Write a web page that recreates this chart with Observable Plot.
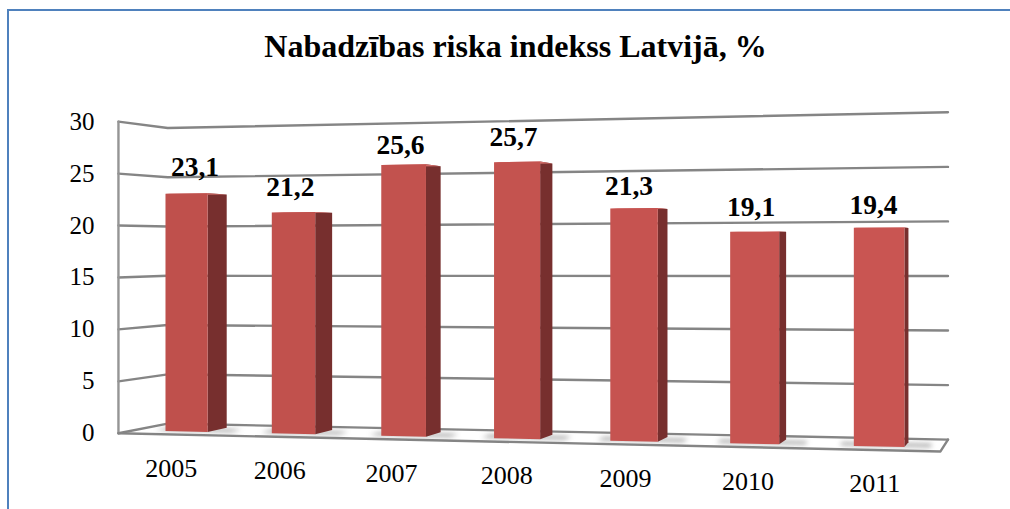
<!DOCTYPE html>
<html>
<head>
<meta charset="utf-8">
<script src="https://cdn.jsdelivr.net/npm/d3@7"></script>
<script src="https://cdn.jsdelivr.net/npm/@observablehq/plot@0.6"></script>
<style>
  html, body { margin: 0; padding: 0; background: #fff; overflow: hidden; }
  #chart { position: relative; width: 1010px; height: 509px; }
  #chart svg { display: block; position: absolute; left: 0; top: 0; background: transparent; }
  #edge { position: absolute; left: 7px; top: 9px; right: 0; bottom: 0;
          border-left: 2px solid #4f81bd; border-top: 2px solid #4f81bd; }
</style>
</head>
<body>
<div id="chart"><div id="edge"></div></div>
<script>
const title = "Nabadzības riska indekss Latvijā, %";
const years = ["2005", "2006", "2007", "2008", "2009", "2010", "2011"];
const values = [23.1, 21.2, 25.6, 25.7, 21.3, 19.1, 19.4];
const valueLabels = ["23,1", "21,2", "25,6", "25,7", "21,3", "19,1", "19,4"];
const yTicks = [0, 5, 10, 15, 20, 25, 30];

// Perspective of the 3-D box, in scale units: u = category slot, z = depth, v = value.
const project = (u, z, v) => {
  const D = 1 - 0.0145 * u + 0.0225 * z;
  return {
    x: (1.0263 * u + 0.194 * z) / D,
    y: (v - 0.2213 * u + 0.4075 * z) / D
  };
};
const uL = -0.508, uR = 6.5, zF = -0.7, zB = 1.7, half = 0.2;

const quad = (id, corners) => [...corners, corners[0]].map(([u, z, v]) => ({id, ...project(u, z, v)}));

const gridPts = yTicks.flatMap(v => [
  {id: v, ...project(uL, zF, v)},
  {id: v, ...project(uL, zB, v)},
  {id: v, ...project(uR, zB, v)}
]);
const floorPts = [
  project(uL, zF, 0), project(uR, zF, 0), project(uR, zB, 0)
];
const wallPts = [project(uL, zF, 0), project(uL, zF, 30)];

const front = values.flatMap((v, i) => quad(i, [[i - half, 0, 0], [i + half, 0, 0], [i + half, 0, v], [i - half, 0, v]]));
const side = values.flatMap((v, i) => quad(i, [[i + half, 0, 0], [i + half, 1, 0], [i + half, 1, v], [i + half, 0, v]]));
const top_ = values.flatMap((v, i) => quad(i, [[i - half, 0, v], [i + half, 0, v], [i + half, 1, v], [i - half, 1, v]]));
const shadow = values.flatMap((v, i) => quad(i, [[i - half - 0.12, 0.1, 0], [i + half + 0.2, 0.1, 0], [i + half + 0.2, 0.7, 0], [i - half - 0.12, 0.7, 0]]));

const barColor = d3.interpolateRgb("#bf504c", "#c95552");
const faceFill = d => barColor(d.id / 6);

// Manual placement of the value labels, as in the source.
const labelNudge = [[8.5, -26], [-3, -25], [-3, -19], [-3.5, -25], [-5, -22], [-3.5, -24], [-5.5, -22]];
const serif = "'Liberation Serif', 'Times New Roman', serif";

const chart = Plot.plot({
  width: 1010,
  height: 509,
  marginTop: 0, marginRight: 0, marginBottom: 0, marginLeft: 0,
  style: {background: "transparent", fontFamily: serif},
  x: {domain: [0, 6], range: [186, 802.08], axis: null},
  y: {domain: [0, 30], range: [431, 122], axis: null},
  marks: [
    Plot.line(gridPts, {x: "x", y: "y", z: "id", stroke: "#858585", strokeWidth: 2.4}),
    Plot.line(wallPts, {x: "x", y: "y", stroke: "#959595", strokeWidth: 2.4}),
    Plot.line(floorPts, {x: "x", y: "y", stroke: "#858585", strokeWidth: 2.4}),
    Plot.line(shadow, {x: "x", y: "y", z: "id", fill: "#7c7c7c", stroke: "none", fillOpacity: 0.8, imageFilter: "blur(2.5px)"}),
    Plot.line(side, {x: "x", y: "y", z: "id", fill: "#772f2e", stroke: "none"}),
    Plot.line(top_, {x: "x", y: "y", z: "id", fill: "#d06c68", stroke: "none"}),
    Plot.line(front, {x: "x", y: "y", z: "id", fill: faceFill, stroke: "none"}),
    ...valueLabels.map((label, i) => Plot.text([label], {
      x: () => project(i, 0, values[i]).x,
      y: () => project(i, 0, values[i]).y,
      text: d => d,
      dx: labelNudge[i][0], dy: labelNudge[i][1],
      fontSize: 27.5, fontWeight: "bold", fill: "#000"
    })),
    Plot.text(years, {
      x: (d, i) => project(i, zF, 0).x,
      y: (d, i) => project(i, zF, 0).y,
      text: d => d, dx: -1, dy: 34, fontSize: 26, fill: "#000"
    }),
    Plot.text(yTicks, {
      x: d => project(uL, zF, d).x,
      y: d => project(uL, zF, d).y,
      text: d => String(d), textAnchor: "end", dx: -24, dy: 0, fontSize: 25, fill: "#000"
    }),
    Plot.text([title], {
      frameAnchor: "top", text: d => d, dx: 10, dy: 34, fontSize: 32, fontWeight: "bold", fill: "#000", lineAnchor: "top"
    })
  ]
});
document.getElementById("chart").appendChild(chart);
</script>
</body>
</html>
